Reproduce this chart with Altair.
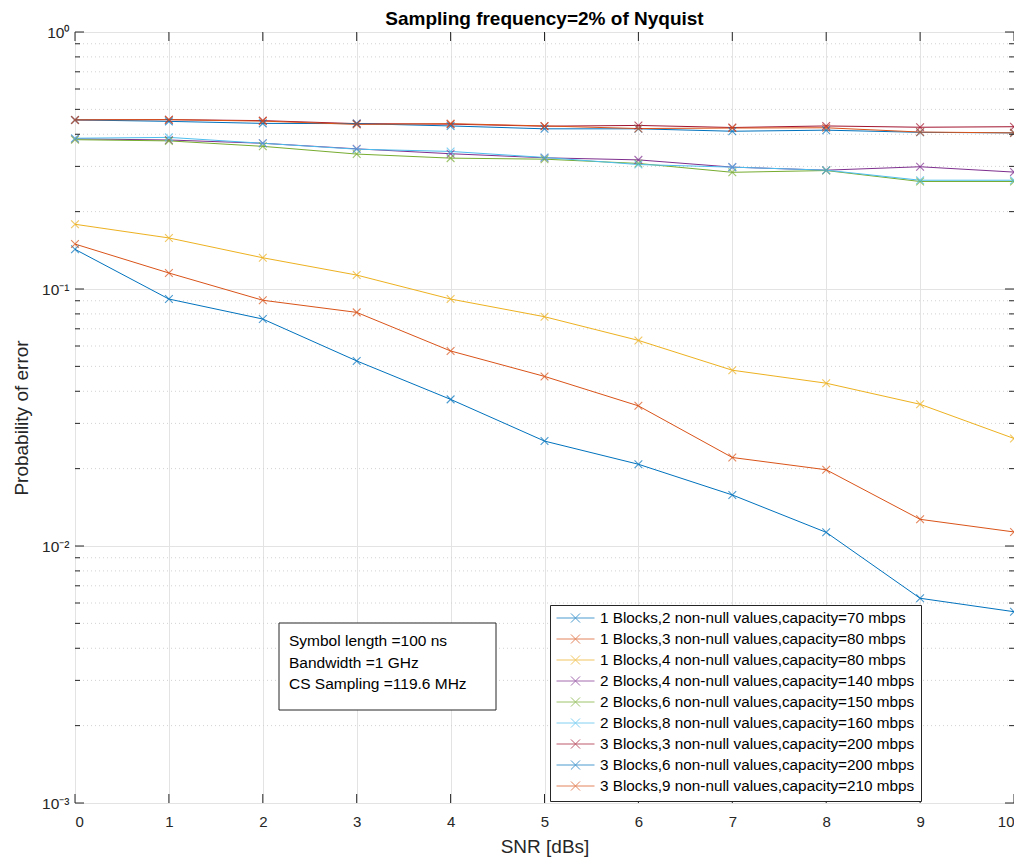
import altair as alt
import pandas as pd

# ---------------- data ----------------
snr = [0, 1, 2, 3, 4, 5, 6, 7, 8, 9, 10]

labels = [
    "1 Blocks,2 non-null values,capacity=70 mbps",
    "1 Blocks,3 non-null values,capacity=80 mbps",
    "1 Blocks,4 non-null values,capacity=80 mbps",
    "2 Blocks,4 non-null values,capacity=140 mbps",
    "2 Blocks,6 non-null values,capacity=150 mbps",
    "2 Blocks,8 non-null values,capacity=160 mbps",
    "3 Blocks,3 non-null values,capacity=200 mbps",
    "3 Blocks,6 non-null values,capacity=200 mbps",
    "3 Blocks,9 non-null values,capacity=210 mbps",
]

s1 = [0.1427, 0.0914, 0.0764, 0.0525, 0.0372, 0.0256, 0.0208, 0.0158, 0.0113, 0.00626, 0.00555]
s2 = [0.1496, 0.1154, 0.0904, 0.0811, 0.0574, 0.0457, 0.0351, 0.0221, 0.0198, 0.0127, 0.01134]
s3 = [0.1786, 0.158, 0.1323, 0.1133, 0.0914, 0.078, 0.0631, 0.0483, 0.043, 0.0356, 0.0262]
s4 = [0.384, 0.380, 0.369, 0.351, 0.336, 0.324, 0.318, 0.298, 0.290, 0.299, 0.285]
s5 = [0.381, 0.377, 0.359, 0.335, 0.323, 0.320, 0.308, 0.2845, 0.289, 0.262, 0.262]
s6 = [0.386, 0.389, 0.369, 0.350, 0.343, 0.325, 0.305, 0.298, 0.290, 0.265, 0.265]
s7 = [0.455, 0.456, 0.452, 0.440, 0.438, 0.430, 0.433, 0.425, 0.431, 0.426, 0.428]
s8 = [0.455, 0.449, 0.441, 0.440, 0.431, 0.420, 0.420, 0.411, 0.415, 0.407, 0.405]
s9 = [0.455, 0.456, 0.450, 0.437, 0.440, 0.431, 0.421, 0.423, 0.424, 0.408, 0.405]
series = [s1, s2, s3, s4, s5, s6, s7, s8, s9]

colors = ["#0072BD", "#D95319", "#EDB120", "#7E2F8E", "#77AC30",
          "#4DBEEE", "#A2142F", "#0072BD", "#D95319"]
widths = [1, 1, 1, 1.3, 1.3, 1.3, 1.5, 2.2, 1.6]

x_ticks = [0, 1, 2, 3, 4, 5, 6, 7, 8, 9, 10]
y_major = [0.001, 0.01, 0.1, 1.0]
y_minor = [m * 10.0 ** e for e in (-3, -2, -1) for m in range(2, 10)]

annotation = ["Symbol length =100 ns", "Bandwidth =1 GHz", "CS Sampling =119.6 MHz"]
title_text = "Sampling frequency=2% of Nyquist"

# ---------------- tables ----------------
rows = []
for lab, vals in zip(labels, series):
    for x, v in zip(snr, vals):
        rows.append({"snr": x, "pe": v, "series": lab})
df = pd.DataFrame(rows)
df_major = pd.DataFrame({"v": y_major})
df_minor = pd.DataFrame({"v": y_minor})
df_xt = pd.DataFrame({"x": x_ticks})
df_ann = pd.DataFrame({"t": ["\n".join(annotation)]})

FONT = "Liberation Sans"
W, H = 939, 771
TXT = "#262626"

xscale = alt.Scale(domain=[0, 10], nice=False, zero=False)
yscale = alt.Scale(type="log", domain=[0.001, 1], nice=False)

legend = alt.Legend(
    orient="none", legendX=475, legendY=573, title=None,
    symbolType="M-1,0L1,0M-0.24,-0.24L0.24,0.24M-0.24,0.24L0.24,-0.24",
    symbolSize=1444, symbolStrokeWidth=1.2, symbolFillColor="transparent",
    labelFont=FONT, labelFontSize=15.3, labelColor="#000", labelLimit=0,
    labelOffset=5, clipHeight=14, rowPadding=5.0, padding=6,
    strokeColor="#262626", fillColor="white",
)
color = alt.Color("series:N", scale=alt.Scale(domain=labels, range=colors),
                  sort=labels, legend=legend)

xenc = alt.X("snr:Q", scale=xscale,
             axis=alt.Axis(values=x_ticks, title="SNR [dBs]", grid=True,
                           gridColor="#e3e3e3", gridWidth=1, ticks=False,
                           domain=False, labelPadding=11, labelFontSize=15,
                           labelFont=FONT, labelColor=TXT, titleFont=FONT,
                           titleFontSize=19, titleFontWeight="normal",
                           titleColor=TXT, titlePadding=8, format="d"))
yenc = alt.Y("pe:Q", scale=yscale,
             axis=alt.Axis(values=y_major, title="Probability of error", grid=True,
                           gridColor="#e3e3e3", gridWidth=1, ticks=False,
                           domain=False, labelPadding=6, labelFontSize=15.5,
                           labelFont=FONT, labelColor=TXT, titleFont=FONT,
                           titleFontSize=19, titleFontWeight="normal",
                           titleColor=TXT, titlePadding=10,
                           labelExpr="datum.value >= 1 ? '10⁰' : datum.value >= 0.1 ? '10⁻¹' : datum.value >= 0.01 ? '10⁻²' : '10⁻³'"))

minor_grid = alt.Chart(df_minor).mark_rule(color="#d2d2d2", strokeDash=[1, 3], strokeWidth=1).encode(
    y=alt.Y("v:Q", scale=yscale), x=alt.value(0), x2=alt.value(W))

lines = alt.Chart(df).mark_line().encode(
    x=xenc, y=yenc, color=color,
    strokeWidth=alt.StrokeWidth("series:N", scale=alt.Scale(domain=labels, range=widths), legend=None),
    order=alt.Order("snr:Q"),
)
points = alt.Chart(df).mark_point(shape="M-1,-1L1,1M-1,1L1,-1", filled=False, size=60, strokeWidth=1.1).encode(
    x=alt.X("snr:Q", scale=xscale), y=alt.Y("pe:Q", scale=yscale), color=color,
)

ann_box = alt.Chart(df_ann).mark_rect(fill="white", stroke="#262626", strokeWidth=1).encode(
    x=alt.value(204), x2=alt.value(421), y=alt.value(591), y2=alt.value(678))
ann_text = alt.Chart(df_ann).mark_text(align="left", baseline="middle", font=FONT, fontSize=15.5,
                                       color="#000", lineBreak="\n", lineHeight=21.5).encode(
    x=alt.value(214), y=alt.value(609), text="t:N")

tk = dict(color=TXT, strokeWidth=1)
lt_major = alt.Chart(df_major).mark_rule(**tk).encode(y=alt.Y("v:Q", scale=yscale), x=alt.value(0), x2=alt.value(9))
lt_minor = alt.Chart(df_minor).mark_rule(**tk).encode(y=alt.Y("v:Q", scale=yscale), x=alt.value(0), x2=alt.value(5))
rt_major = alt.Chart(df_major).mark_rule(**tk).encode(y=alt.Y("v:Q", scale=yscale), x=alt.value(W - 9), x2=alt.value(W))
rt_minor = alt.Chart(df_minor).mark_rule(**tk).encode(y=alt.Y("v:Q", scale=yscale), x=alt.value(W - 5), x2=alt.value(W))
bt = alt.Chart(df_xt).mark_rule(**tk).encode(x=alt.X("x:Q", scale=xscale), y=alt.value(H - 9), y2=alt.value(H))
tp = alt.Chart(df_xt).mark_rule(**tk).encode(x=alt.X("x:Q", scale=xscale), y=alt.value(0), y2=alt.value(9))

chart = alt.layer(
    minor_grid, lines, points, ann_box, ann_text,
    lt_major, lt_minor, rt_major, rt_minor, bt, tp,
).properties(
    width=W, height=H,
    title=alt.TitleParams(title_text, font=FONT, fontSize=19, fontWeight="bold",
                          color="#000", anchor="middle", offset=-4),
    autosize=alt.AutoSizeParams(type="none"),
    padding={"left": 67, "top": 24, "right": 0, "bottom": 56},
).configure_view(stroke="#262626", strokeWidth=1).configure(background="white")

chart.save("out.html", embed_options={"renderer": "svg", "actions": False})
